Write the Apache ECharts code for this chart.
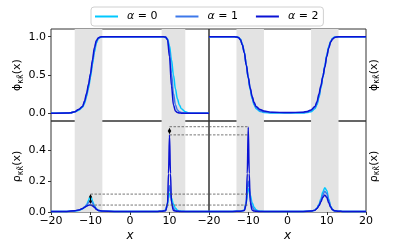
<!DOCTYPE html>
<html><head><meta charset="utf-8">
<script src="https://cdn.jsdelivr.net/npm/echarts@6/dist/echarts.min.js"></script>
<style>html,body{margin:0;padding:0;background:#fff}#c{width:407px;height:244px}</style>
</head><body><div id="c"></div>
<script>
// ---------- data ----------
const NAMES = ['α = 0', 'α = 1', 'α = 2'];
const COLORS = ['#00C8FF', '#3D78EA', '#0A12D4'];

// top-left: phi, left panel
const X_TL = [-20,-16,-15,-14,-13,-12,-11.5,-11,-10.5,-10,-9.5,-9,-8.5,-8,-7.5,-7,-4,0,4,8,8.5,9,9.5,10,10.5,11,11.5,12,12.5,13,14,15,16,20];
const PHI_L_A0 = [0,0.003,0.008,0.02,0.04,0.08,0.13,0.22,0.33,0.47,0.64,0.8,0.92,0.975,0.99,1,1,1,1,1,0.998,0.99,0.97,0.88,0.7,0.5,0.32,0.19,0.11,0.06,0.02,0.005,0,0];
const PHI_L_A1 = [0,0.003,0.008,0.02,0.05,0.09,0.15,0.24,0.36,0.5,0.67,0.83,0.94,0.98,0.995,1,1,1,1,1,0.999,0.995,0.97,0.82,0.52,0.26,0.11,0.045,0.02,0.01,0.003,0,0,0];
const PHI_L_A2 = [0,0.003,0.008,0.02,0.05,0.09,0.16,0.26,0.38,0.52,0.7,0.86,0.95,0.985,0.996,1,1,1,1,1,0.999,0.995,0.96,0.74,0.36,0.11,0.03,0.01,0.004,0.002,0.001,0,0,0];

// top-right: phi, right panel
const X_TR = [-20,-16,-14,-13,-12.5,-12,-11.5,-11,-10.5,-10,-9.5,-9,-8.5,-8,-7,-6,-4,0,4,5,6,7,7.5,8,8.5,9,9.5,10,10.5,11,11.5,12,13,14,16,20];
const PHI_R_A0 = [1,1,1,0.998,0.99,0.97,0.9,0.8,0.63,0.46,0.31,0.19,0.11,0.06,0.025,0.012,0.005,0.003,0.005,0.01,0.022,0.06,0.11,0.2,0.33,0.47,0.62,0.76,0.87,0.94,0.98,0.995,1,1,1,1];
const PHI_R_A1 = [1,1,1,0.996,0.99,0.965,0.895,0.795,0.63,0.465,0.32,0.2,0.125,0.075,0.035,0.02,0.01,0.006,0.01,0.018,0.035,0.075,0.13,0.22,0.34,0.47,0.61,0.75,0.86,0.935,0.975,0.992,1,1,1,1];
const PHI_R_A2 = [1,1,1,0.995,0.99,0.96,0.89,0.79,0.63,0.47,0.33,0.22,0.14,0.09,0.05,0.03,0.015,0.01,0.015,0.025,0.045,0.09,0.15,0.25,0.36,0.48,0.6,0.74,0.85,0.93,0.97,0.99,1,1,1,1];

// bottom-left: rho, left panel
const X_BL = [-20,-16,-14,-13,-12,-11.5,-11,-10.5,-10.25,-10,-9.75,-9.5,-9,-8.5,-8,-7,-4,0,4,7,8,9,9.5,9.75,10,10.25,10.5,11,11.5,12,12.5,13,14,16,20];
const RHO_L_A0 = [0.004,0.004,0.006,0.01,0.02,0.03,0.045,0.075,0.09,0.1,0.09,0.07,0.04,0.02,0.01,0.005,0.004,0.004,0.004,0.004,0.005,0.012,0.05,0.09,0.12,0.115,0.09,0.05,0.025,0.012,0.007,0.005,0.004,0.004,0.004];
const RHO_L_A1 = [0.004,0.004,0.007,0.012,0.022,0.032,0.045,0.06,0.068,0.07,0.066,0.057,0.035,0.018,0.01,0.005,0.004,0.004,0.004,0.004,0.005,0.01,0.06,0.13,0.17,0.13,0.07,0.025,0.01,0.006,0.005,0.004,0.004,0.004,0.004];
const RHO_L_A2 = [0.004,0.004,0.008,0.013,0.022,0.03,0.038,0.044,0.045,0.045,0.044,0.04,0.03,0.018,0.01,0.006,0.004,0.004,0.004,0.004,0.005,0.008,0.05,0.25,0.5,0.25,0.06,0.01,0.006,0.005,0.004,0.004,0.004,0.004,0.004];

// bottom-right: rho, right panel
const X_BR = [-20,-16,-14,-12,-11,-10.5,-10.25,-10,-9.75,-9.5,-9,-8.5,-8,-7.5,-7,-6,-4,0,4,6,7,7.5,8,8.5,9,9.5,10,10.5,11,11.5,12,13,14,16,20];
const RHO_R_A0 = [0.004,0.004,0.004,0.005,0.012,0.06,0.11,0.15,0.14,0.11,0.06,0.03,0.015,0.008,0.005,0.004,0.004,0.004,0.004,0.006,0.012,0.025,0.048,0.085,0.13,0.157,0.14,0.085,0.038,0.015,0.007,0.005,0.004,0.004,0.004];
const RHO_R_A1 = [0.004,0.004,0.004,0.005,0.012,0.07,0.15,0.2,0.16,0.09,0.035,0.015,0.008,0.005,0.004,0.004,0.004,0.004,0.004,0.006,0.012,0.025,0.045,0.075,0.11,0.135,0.12,0.075,0.035,0.014,0.007,0.005,0.004,0.004,0.004];
const RHO_R_A2 = [0.004,0.004,0.004,0.005,0.01,0.05,0.25,0.55,0.25,0.06,0.012,0.006,0.005,0.004,0.004,0.004,0.004,0.004,0.004,0.006,0.012,0.022,0.04,0.065,0.095,0.11,0.095,0.06,0.03,0.014,0.008,0.005,0.004,0.004,0.004];

// shaded regions
const BANDS_L = [[-14, -7], [8, 14]];
const BANDS_R = [[-13, -6], [6, 13]];

// dashed reference levels and arrows
const HIGH_LEVELS = [0.553, 0.50];
const LOW_LEVELS = [0.116, 0.045];
const ARROW_LOW = [-10, 0.063, 0.105];
const ARROW_HIGH = [10, 0.516, 0.535];

const X_TICKS_L = [-20, -10, 0, 10];
const X_TICKS_R = [-20, -10, 0, 10, 20];
const PHI_TICKS = [0, 0.5, 1];
const RHO_TICKS = [0, 0.2, 0.4];

// ---------- chart ----------
const pair = (xs, ys) => xs.map((x, i) => [x, ys[i]]);
const minus = v => String(v).replace('-', '\u2212');
const FONT = 'DejaVu Sans';
const AX = '#333';

const grids = [
  {left: 51, top: 29, width: 158, height: 92},
  {left: 209, top: 29, width: 157, height: 92},
  {left: 51, top: 121, width: 158, height: 91},
  {left: 209, top: 121, width: 157, height: 91}
].map(g => Object.assign(g, {show: true, borderColor: AX, borderWidth: 1, backgroundColor: 'transparent'}));

const nameRich = {
  a: {fontFamily: FONT, fontSize: 11, color: '#000'},
  s: {fontFamily: FONT, fontSize: 8, color: '#000', verticalAlign: 'bottom', padding: [6, 0, 0, 0]}
};

function xAxis(i, ticks, showLabels) {
  const ax = {
    type: 'value', gridIndex: i, min: -20, max: 20,
    axisLine: {show: false, onZero: false}, splitLine: {show: false},
    axisTick: {show: false}, axisLabel: {show: false}
  };
  if (showLabels) {
    ax.axisTick = {show: true, length: 3, customValues: ticks, lineStyle: {color: AX}};
    ax.axisLabel = {show: true, customValues: ticks, formatter: minus, fontFamily: FONT, fontSize: 11, color: '#000', margin: 4};
    ax.name = 'x'; ax.nameLocation = 'middle'; ax.nameGap = 18;
    ax.nameTextStyle = {fontFamily: FONT, fontStyle: 'italic', fontSize: 12, color: '#000'};
  }
  return ax;
}
function yAxis(i, min, max, ticks, left, label) {
  const ax = {
    type: 'value', gridIndex: i, min: min, max: max, position: left ? 'left' : 'right',
    axisLine: {show: false, onZero: false}, splitLine: {show: false},
    axisTick: {show: false}, axisLabel: {show: false},
    name: label, nameLocation: 'middle', nameRotate: 90, nameGap: left ? 23 : 1,
    nameTextStyle: {rich: nameRich}
  };
  if (left) {
    ax.axisTick = {show: true, length: 3, customValues: ticks, lineStyle: {color: AX}};
    ax.axisLabel = {show: true, customValues: ticks, formatter: v => v.toFixed(1), fontFamily: FONT, fontSize: 11, color: '#000', margin: 5};
  }
  return ax;
}
const PHI_NAME = '{a|ϕ}{s|κκ̃}{a|(x)}';
const RHO_NAME = '{a|ρ}{s|κκ̃}{a|(x)}';

const series = [];
function bandSeries(i, bands) {
  series.push({
    type: 'line', xAxisIndex: i, yAxisIndex: i, data: [], z: 0, silent: true,
    markArea: {silent: true, itemStyle: {color: '#e3e3e3'},
      data: bands.map(b => [{xAxis: b[0]}, {xAxis: b[1]}])}
  });
}
function curves(i, xs, arrs) {
  arrs.forEach((ys, k) => series.push({
    type: 'line', name: NAMES[k], xAxisIndex: i, yAxisIndex: i,
    data: pair(xs, ys), showSymbol: false, smooth: 0.35, smoothMonotone: 'x',
    lineStyle: {width: 1.5, color: COLORS[k]}, itemStyle: {color: COLORS[k]}, z: 3 + k
  }));
}
function dashed(i, x0, x1, y) {
  series.push({
    type: 'line', xAxisIndex: i, yAxisIndex: i, data: [[x0, y], [x1, y]],
    showSymbol: false, silent: true, z: 8,
    lineStyle: {color: '#555', width: 0.8, type: [2.5, 1.5]}
  });
}
function arrow(i, a) {
  series.push({
    type: 'line', xAxisIndex: i, yAxisIndex: i, data: [], z: 9, silent: true,
    markLine: {silent: true, symbol: ['triangle', 'triangle'], symbolSize: [3.5, 3.5],
      label: {show: false}, lineStyle: {color: '#000', width: 1, type: 'solid'},
      data: [[{coord: [a[0], a[1]]}, {coord: [a[0], a[2]]}]]}
  });
}

bandSeries(0, BANDS_L); bandSeries(1, BANDS_R); bandSeries(2, BANDS_L); bandSeries(3, BANDS_R);
curves(0, X_TL, [PHI_L_A0, PHI_L_A1, PHI_L_A2]);
curves(1, X_TR, [PHI_R_A0, PHI_R_A1, PHI_R_A2]);
curves(2, X_BL, [RHO_L_A0, RHO_L_A1, RHO_L_A2]);
curves(3, X_BR, [RHO_R_A0, RHO_R_A1, RHO_R_A2]);
HIGH_LEVELS.forEach(y => { dashed(2, ARROW_HIGH[0], 20, y); dashed(3, -20, -10, y); });
LOW_LEVELS.forEach(y => { dashed(2, ARROW_LOW[0], 20, y); dashed(3, -20, -10, y); });
arrow(2, ARROW_LOW); arrow(2, ARROW_HIGH);

const chart = echarts.init(document.getElementById('c'), null, {renderer: 'canvas'});
chart.setOption({
  animation: false,
  backgroundColor: '#fff',
  legend: {
    data: NAMES, left: 91, top: 7, itemWidth: 23, itemHeight: 2, icon: 'rect', itemGap: 18,
    padding: [4, 5, 4, 4], borderColor: '#d0d0d0', borderWidth: 1, borderRadius: 3,
    formatter: n => '{i|α} = ' + n.slice(-1),
    textStyle: {fontFamily: FONT, fontSize: 11, color: '#000', padding: [0, 0, 0, 4],
      rich: {i: {fontFamily: FONT, fontStyle: 'italic', fontSize: 11, color: '#000'}}}
  },
  grid: grids,
  xAxis: [xAxis(0, X_TICKS_L, false), xAxis(1, X_TICKS_R, false), xAxis(2, X_TICKS_L, true), xAxis(3, X_TICKS_R, true)],
  yAxis: [yAxis(0, -0.1, 1.1, PHI_TICKS, true, PHI_NAME), yAxis(1, -0.1, 1.1, PHI_TICKS, false, PHI_NAME),
          yAxis(2, 0, 0.59, RHO_TICKS, true, RHO_NAME), yAxis(3, 0, 0.59, RHO_TICKS, false, RHO_NAME)],
  series: series
});
</script></body></html>
